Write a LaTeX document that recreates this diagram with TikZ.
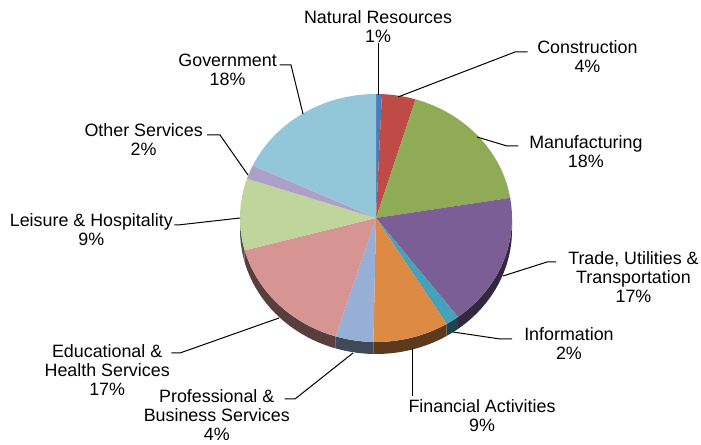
\documentclass[tikz,border=0pt]{standalone}
\usepackage{fontspec}
\setmainfont{Liberation Sans}

\definecolor{natres}{HTML}{4A7EBB}
\definecolor{constr}{HTML}{BE4B48}
\definecolor{manuf}{HTML}{8FAB55}
\definecolor{trade}{HTML}{7B5E96}
\definecolor{inform}{HTML}{46A2B8}
\definecolor{finan}{HTML}{DD8A45}
\definecolor{profserv}{HTML}{97AED6}
\definecolor{educ}{HTML}{D69593}
\definecolor{leis}{HTML}{BFD59C}
\definecolor{othserv}{HTML}{ADA0C8}
\definecolor{govt}{HTML}{93C6D8}

\begin{document}
\begin{tikzpicture}[x=0.75pt, y=-0.75pt,
    lbl/.style={inner sep=0pt, align=center, font=\fontsize{13.4}{14.25}\selectfont},
    leader/.style={draw=black, line width=0.75pt}]

    \useasboundingbox (0,0) rectangle (701,445);

    % Rim of the pie (front half)
    \begin{scope}[shift={(376,218)}]
        \fill[trade!42!black] (0:136 and 124) arc[start angle=0, end angle=52.92, x radius=136, y radius=124]
            -- ++(0,12) arc[start angle=52.92, end angle=0, x radius=136, y radius=124] -- cycle;
        \fill[inform!42!black] (52.92:136 and 124) arc[start angle=52.92, end angle=58.68, x radius=136, y radius=124]
            -- ++(0,12) arc[start angle=58.68, end angle=52.92, x radius=136, y radius=124] -- cycle;
        \fill[finan!42!black] (58.68:136 and 124) arc[start angle=58.68, end angle=91.08, x radius=136, y radius=124]
            -- ++(0,12) arc[start angle=91.08, end angle=58.68, x radius=136, y radius=124] -- cycle;
        \fill[profserv!42!black] (91.08:136 and 124) arc[start angle=91.08, end angle=107.28, x radius=136, y radius=124]
            -- ++(0,12) arc[start angle=107.28, end angle=91.08, x radius=136, y radius=124] -- cycle;
        \fill[educ!42!black] (107.28:136 and 124) arc[start angle=107.28, end angle=164.88, x radius=136, y radius=124]
            -- ++(0,12) arc[start angle=164.88, end angle=107.28, x radius=136, y radius=124] -- cycle;
        \fill[leis!42!black] (164.88:136 and 124) arc[start angle=164.88, end angle=180, x radius=136, y radius=124]
            -- ++(0,12) arc[start angle=180, end angle=164.88, x radius=136, y radius=124] -- cycle;

        % Top of the pie, clockwise from the top
        \fill[natres] (0,0) -- (-90:136 and 124) arc[start angle=-90, end angle=-87.48, x radius=136, y radius=124] -- cycle;
        \fill[constr] (0,0) -- (-87.48:136 and 124) arc[start angle=-87.48, end angle=-73.08, x radius=136, y radius=124] -- cycle;
        \fill[manuf] (0,0) -- (-73.08:136 and 124) arc[start angle=-73.08, end angle=-9.36, x radius=136, y radius=124] -- cycle;
        \fill[trade] (0,0) -- (-9.36:136 and 124) arc[start angle=-9.36, end angle=52.92, x radius=136, y radius=124] -- cycle;
        \fill[inform] (0,0) -- (52.92:136 and 124) arc[start angle=52.92, end angle=58.68, x radius=136, y radius=124] -- cycle;
        \fill[finan] (0,0) -- (58.68:136 and 124) arc[start angle=58.68, end angle=91.08, x radius=136, y radius=124] -- cycle;
        \fill[profserv] (0,0) -- (91.08:136 and 124) arc[start angle=91.08, end angle=107.28, x radius=136, y radius=124] -- cycle;
        \fill[educ] (0,0) -- (107.28:136 and 124) arc[start angle=107.28, end angle=164.88, x radius=136, y radius=124] -- cycle;
        \fill[leis] (0,0) -- (164.88:136 and 124) arc[start angle=164.88, end angle=198.5, x radius=136, y radius=124] -- cycle;
        \fill[othserv] (0,0) -- (198.5:136 and 124) arc[start angle=198.5, end angle=205, x radius=136, y radius=124] -- cycle;
        \fill[govt] (0,0) -- (205:136 and 124) arc[start angle=205, end angle=270, x radius=136, y radius=124] -- cycle;
    \end{scope}

    % Labels
    \node[lbl] (lNR) at (378,27) {Natural Resources\\1\%};
    \node[lbl, anchor=west] (lCon) at (537,57) {Construction\\4\%};
    \node[lbl, anchor=west] (lMan) at (529,152) {Manufacturing\\18\%};
    \node[lbl, anchor=west] (lTrd) at (568,277) {Trade, Utilities \&\\Transportation\\17\%};
    \node[lbl, anchor=west] (lInf) at (524,344) {Information\\2\%};
    \node[lbl] (lFin) at (482,416) {Financial Activities\\9\%};
    \node[lbl, anchor=east] (lPro) at (290,415) {Professional \&\\Business Services\\4\%};
    \node[lbl, anchor=east] (lEdu) at (170,370) {Educational \&\\Health Services\\17\%};
    \node[lbl, anchor=east] (lLei) at (173,230) {Leisure \& Hospitality\\9\%};
    \node[lbl, anchor=east] (lOth) at (203,140) {Other Services\\2\%};
    \node[lbl, anchor=east] (lGov) at (277,70) {Government\\18\%};

    % Points on the pie and bends of the leaders
    \coordinate (pNR) at (378,95);
    \coordinate (pCon) at (398,97);
    \coordinate (kCon) at (515,52);
    \coordinate (pMan) at (477,137);
    \coordinate (kMan) at (507,146);
    \coordinate (pTrd) at (503,276);
    \coordinate (kTrd) at (547,262);
    \coordinate (pInf) at (453,332);
    \coordinate (kInf) at (500,339);
    \coordinate (pFin) at (412,348);
    \coordinate (pPro) at (353,353);
    \coordinate (kPro) at (295,399);
    \coordinate (pEdu) at (279,318);
    \coordinate (kEdu) at (180,353);
    \coordinate (pLei) at (240,218);
    \coordinate (kLei) at (178,225);
    \coordinate (pOth) at (248,175);
    \coordinate (kOth) at (220,135);
    \coordinate (pGov) at (303,114);
    \coordinate (kGov) at (291,65);

    % Leader lines
    \draw[leader] (pNR) -- (pNR |- lNR.south);
    \draw[leader] (pCon) -- (kCon) -- ([xshift=-7pt]lCon.west |- kCon);
    \draw[leader] (pMan) -- (kMan) -- ([xshift=-8pt]lMan.west |- kMan);
    \draw[leader] (pTrd) -- (kTrd) -- ([xshift=-9pt]lTrd.west |- kTrd);
    \draw[leader] (pInf) -- (kInf) -- ([xshift=-9pt]lInf.west |- kInf);
    \draw[leader] (pFin) -- ([yshift=3pt]pFin |- lFin.north);
    \draw[leader] (pPro) -- (kPro) -- ([xshift=-4pt]lPro.east |- kPro);
    \draw[leader] (pEdu) -- (kEdu) -- ([xshift=1pt]lEdu.east |- kEdu);
    \draw[leader] (pLei) -- (kLei) -- ([xshift=1pt]lLei.east |- kLei);
    \draw[leader] (pOth) -- (kOth) -- ([xshift=3pt]lOth.east |- kOth);
    \draw[leader] (pGov) -- (kGov) -- ([xshift=2pt]lGov.east |- kGov);
\end{tikzpicture}
\end{document}
